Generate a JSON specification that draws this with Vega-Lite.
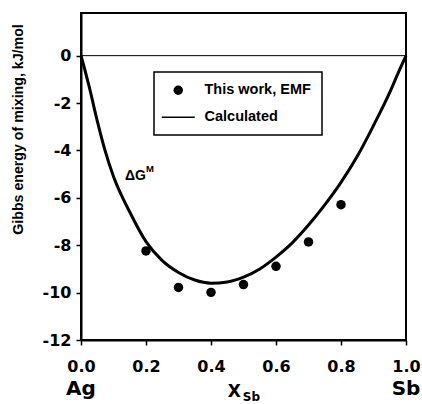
{
  "$schema": "https://vega.github.io/schema/vega-lite/v6.json",
  "width": 325,
  "height": 327,
  "autosize": {"type": "none"},
  "padding": {"left": 81, "top": 13, "right": 16, "bottom": 64},
  "background": "white",
  "config": {
    "view": {"stroke": "black", "strokeWidth": 2},
    "font": "Liberation Sans",
    "axis": {
      "grid": false,
      "domainColor": "black",
      "domainWidth": 2,
      "tickColor": "black",
      "tickWidth": 1.5,
      "tickSize": 5,
      "labelFont": "DejaVu Sans",
      "labelFontWeight": "bold",
      "labelFontSize": 16,
      "labelColor": "black",
      "titleFont": "Liberation Sans",
      "titleFontWeight": "bold",
      "titleColor": "black"
    },
    "text": {"color": "black", "fontWeight": "bold"}
  },
  "datasets": {
    "emf": [
      {"x_sb": 0.2, "dg": -8.24, "series": "This work, EMF"},
      {"x_sb": 0.3, "dg": -9.78, "series": "This work, EMF"},
      {"x_sb": 0.4, "dg": -9.99, "series": "This work, EMF"},
      {"x_sb": 0.5, "dg": -9.66, "series": "This work, EMF"},
      {"x_sb": 0.6, "dg": -8.89, "series": "This work, EMF"},
      {"x_sb": 0.7, "dg": -7.86, "series": "This work, EMF"},
      {"x_sb": 0.8, "dg": -6.29, "series": "This work, EMF"}
    ],
    "calc": [
      {"x_sb": 0.0, "dg": 0.0, "series": "Calculated"},
      {"x_sb": 0.01, "dg": -0.5, "series": "Calculated"},
      {"x_sb": 0.025, "dg": -1.3, "series": "Calculated"},
      {"x_sb": 0.05, "dg": -2.75, "series": "Calculated"},
      {"x_sb": 0.075, "dg": -4.05, "series": "Calculated"},
      {"x_sb": 0.1, "dg": -5.1, "series": "Calculated"},
      {"x_sb": 0.15, "dg": -6.6, "series": "Calculated"},
      {"x_sb": 0.2, "dg": -7.85, "series": "Calculated"},
      {"x_sb": 0.25, "dg": -8.65, "series": "Calculated"},
      {"x_sb": 0.3, "dg": -9.15, "series": "Calculated"},
      {"x_sb": 0.35, "dg": -9.47, "series": "Calculated"},
      {"x_sb": 0.4, "dg": -9.6, "series": "Calculated"},
      {"x_sb": 0.45, "dg": -9.55, "series": "Calculated"},
      {"x_sb": 0.5, "dg": -9.35, "series": "Calculated"},
      {"x_sb": 0.55, "dg": -9.0, "series": "Calculated"},
      {"x_sb": 0.6, "dg": -8.5, "series": "Calculated"},
      {"x_sb": 0.65, "dg": -7.9, "series": "Calculated"},
      {"x_sb": 0.7, "dg": -7.15, "series": "Calculated"},
      {"x_sb": 0.75, "dg": -6.3, "series": "Calculated"},
      {"x_sb": 0.8, "dg": -5.35, "series": "Calculated"},
      {"x_sb": 0.85, "dg": -4.25, "series": "Calculated"},
      {"x_sb": 0.9, "dg": -2.95, "series": "Calculated"},
      {"x_sb": 0.95, "dg": -1.55, "series": "Calculated"},
      {"x_sb": 0.98, "dg": -0.6, "series": "Calculated"},
      {"x_sb": 1.0, "dg": 0.0, "series": "Calculated"}
    ],
    "one": [{}]
  },
  "layer": [
    {
      "data": {"name": "one"},
      "mark": {"type": "rule", "color": "black", "strokeWidth": 1},
      "encoding": {"y": {"datum": 0, "type": "quantitative"}}
    },
    {
      "data": {"name": "calc"},
      "mark": {"type": "line", "strokeWidth": 3, "interpolate": "monotone"},
      "encoding": {
        "x": {
          "field": "x_sb",
          "type": "quantitative",
          "scale": {"domain": [0, 1], "nice": false, "zero": false},
          "axis": {
            "title": null,
            "values": [0, 0.1, 0.2, 0.3, 0.4, 0.5, 0.6, 0.7, 0.8, 0.9, 1.0],
            "labelExpr": "round(datum.value * 10) % 2 === 0 ? format(datum.value, '.1f') : ''",
            "labelPadding": 13,
            "labelFlush": false,
            "labelOverlap": false
          }
        },
        "y": {
          "field": "dg",
          "type": "quantitative",
          "scale": {"domain": [-12, 1.8], "nice": false, "zero": false},
          "axis": {
            "title": "Gibbs energy of mixing, kJ/mol",
            "titleFontSize": 14.2,
            "titleX": -56,
            "titleY": 116,
            "values": [-12, -11, -10, -9, -8, -7, -6, -5, -4, -3, -2, -1, 0, 1],
            "labelExpr": "datum.value % 2 === 0 ? '' + datum.value : ''",
            "labelPadding": 5,
            "labelFlush": false,
            "labelOverlap": false
          }
        },
        "color": {
          "field": "series",
          "type": "nominal",
          "scale": {"domain": ["This work, EMF", "Calculated"], "range": ["black", "black"]},
          "legend": {
            "orient": "none",
            "legendX": 73,
            "legendY": 59,
            "title": null,
            "padding": 11,
            "rowPadding": 12,
            "symbolSize": 100,
            "symbolOffset": 6,
            "labelOffset": 19,
            "labelFont": "Liberation Sans",
            "labelFontWeight": "bold",
            "labelFontSize": 14.5,
            "labelColor": "black",
            "labelLimit": 300,
            "labelExpr": "datum.label + '\u00a0\u00a0'",
            "encode": {
              "legend": {
                "update": {
                  "stroke": {"value": "black"},
                  "strokeWidth": {"value": 1.5},
                  "fill": {"value": "white"}
                }
              },
              "symbols": {
                "update": {
                  "shape": {"signal": "datum.value === 'Calculated' ? 'stroke' : 'circle'"},
                  "size": {"signal": "datum.value === 'Calculated' ? 1089 : 90"},
                  "fill": {"signal": "datum.value === 'Calculated' ? 'transparent' : 'black'"},
                  "stroke": {"value": "black"},
                  "strokeWidth": {"signal": "datum.value === 'Calculated' ? 1.5 : 0"},
                  "opacity": {"value": 1}
                }
              }
            }
          }
        }
      }
    },
    {
      "data": {"name": "emf"},
      "mark": {"type": "point", "filled": true, "shape": "circle", "size": 90, "opacity": 1},
      "encoding": {
        "x": {"field": "x_sb", "type": "quantitative"},
        "y": {"field": "dg", "type": "quantitative"},
        "color": {"field": "series", "type": "nominal"}
      }
    },
    {
      "data": {"name": "one"},
      "mark": {"type": "text", "text": "ΔG", "align": "left", "baseline": "middle", "fontSize": 14, "font": "Liberation Sans"},
      "encoding": {"x": {"datum": 0.135, "type": "quantitative"}, "y": {"datum": -5.06, "type": "quantitative"}}
    },
    {
      "data": {"name": "one"},
      "mark": {"type": "text", "text": "M", "align": "left", "baseline": "middle", "fontSize": 9.5, "font": "Liberation Sans"},
      "encoding": {"x": {"datum": 0.2, "type": "quantitative"}, "y": {"datum": -4.77, "type": "quantitative"}}
    },
    {
      "data": {"name": "one"},
      "mark": {"type": "text", "text": "Ag", "align": "center", "baseline": "middle", "fontSize": 20, "font": "DejaVu Sans"},
      "encoding": {"x": {"datum": 0, "type": "quantitative"}, "y": {"datum": -14.05, "type": "quantitative"}}
    },
    {
      "data": {"name": "one"},
      "mark": {"type": "text", "text": "Sb", "align": "center", "baseline": "middle", "fontSize": 20, "font": "DejaVu Sans"},
      "encoding": {"x": {"datum": 1, "type": "quantitative"}, "y": {"datum": -14.05, "type": "quantitative"}}
    },
    {
      "data": {"name": "one"},
      "mark": {"type": "text", "text": "X", "align": "right", "baseline": "middle", "fontSize": 17, "font": "DejaVu Sans"},
      "encoding": {"x": {"datum": 0.492, "type": "quantitative"}, "y": {"datum": -14.18, "type": "quantitative"}}
    },
    {
      "data": {"name": "one"},
      "mark": {"type": "text", "text": "Sb", "align": "left", "baseline": "middle", "fontSize": 12, "font": "DejaVu Sans"},
      "encoding": {"x": {"datum": 0.498, "type": "quantitative"}, "y": {"datum": -14.39, "type": "quantitative"}}
    }
  ]
}
